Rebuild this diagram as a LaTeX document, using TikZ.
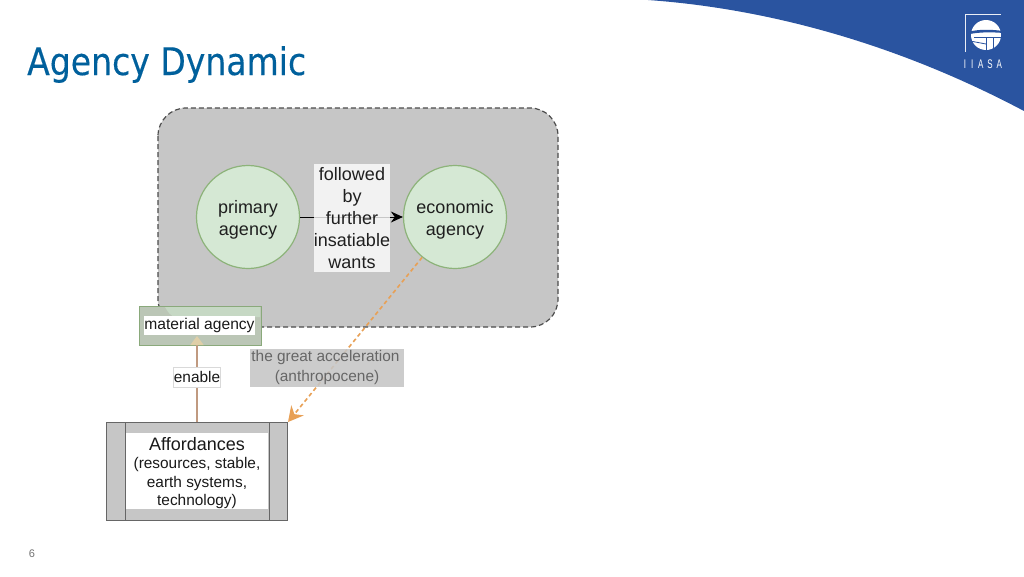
\documentclass[tikz,border=0pt]{standalone}
\usepackage{fontspec}
\setmainfont{Liberation Sans}
\newfontfamily\titlefont[FakeStretch=0.87,FakeBold=0.25]{DejaVu Sans}
\usetikzlibrary{arrows.meta}
\definecolor{panelgray}{HTML}{C6C6C6}
\definecolor{greenfill}{HTML}{D5E8D4}
\definecolor{greenline}{HTML}{8DB37A}
\definecolor{iiasablue}{HTML}{2A54A0}
\definecolor{titleblue}{HTML}{00609C}
\definecolor{orangeline}{HTML}{E8A055}
\definecolor{brownline}{HTML}{C09A80}
\definecolor{matbox}{HTML}{BBC6B6}
\definecolor{matlight}{HTML}{C6D8C4}
\definecolor{mattip}{HTML}{DFCFA8}
\tikzset{
  agent/.style={circle,draw=greenline,fill=greenfill,line width=1.2pt,minimum size=103pt,inner sep=0pt},
  agenttext/.style={align=center,font=\fontsize{18}{22}\selectfont,text=black!88,inner sep=0pt},
}
\begin{document}
\begin{tikzpicture}[x=1pt,y=-1pt]
\useasboundingbox (0,0) rectangle (1024,576);
\fill[white] (0,0) rectangle (1024,576);
% swoosh
\fill[iiasablue] (648,0) .. controls (760,8) and (890,40) .. (1024,111) -- (1024,0) -- cycle;
% logo
\draw[white!90!iiasablue,line width=0.8pt] (965,52) -- (965,14.5) -- (1001,14.5);
\fill[white] (986,35) circle (15);
\fill[iiasablue] (970,31.5) .. controls (980,29) and (992,29.5) .. (1003,31) -- (1003,33) .. controls (992,32) and (980,32) .. (970,34) -- cycle;
\draw[iiasablue,line width=1pt] (986,37) -- (986,51) (974,37)--(1003,37) (993,37)--(993,51);
\draw[iiasablue,line width=0.8pt] (970,41) -- (986,44);
\node[font=\fontsize{10}{10}\selectfont,text=white,inner sep=0pt] (iiasa) at (983,64) {\scalebox{0.8}[1.25]{I\hspace{6pt}I\hspace{6pt}A\hspace{5pt}S\hspace{5pt}A}};
% title
\node[anchor=base west,inner sep=0pt,text=titleblue,font=\titlefont\fontsize{38}{40}\selectfont] (title) at (27,75) {Agency Dynamic};
\node[anchor=center,inner sep=0pt,text=black!55,font=\fontsize{11}{12}\selectfont] (pagenum) at (32,554) {6};
% panel
\draw[fill=panelgray,draw=black!70,dash pattern=on 5pt off 3pt,line width=1.2pt,rounded corners=28pt] (158,108) rectangle (558,327);
\node[agent,label={[agenttext,yshift=-2.5pt]center:primary\\agency}] (primary) at (248,217) {};
\node[agent,label={[agenttext,yshift=-2.5pt]center:economic\\agency}] (economic) at (455,217) {};
\draw[-{Stealth[length=12pt,width=11pt]},line width=1pt,black] (primary) -- (economic);
\node[fill=white,fill opacity=0.78,text opacity=1,inner sep=0pt,minimum width=76pt,minimum height=108pt,align=center,font=\fontsize{18}{21.8}\selectfont,text=black!88] (followed) at (352,218) {followed\\by\\further\\insatiable\\wants};
\coordinate (acceltip) at (288,422);
% material
\node[draw=greenline!80!gray,fill=matbox,line width=1pt,minimum width=122pt,minimum height=39pt,inner sep=0pt] (materialbox) at (200,325.5) {};
\fill[matlight] (165,307) .. controls (168,312) and (170,316) .. (176,317) -- (260,317) -- (260,307) -- cycle;
\node[fill=white,inner sep=0pt,minimum width=110pt,minimum height=19pt,font=\fontsize{15.6}{18}\selectfont,text=black!90] (material) at (199.5,325) {material agency};
% affordances
\node[draw=black!60,fill=panelgray,line width=1pt,minimum width=181pt,minimum height=98pt,inner sep=0pt] (afford) at (197,471) {};
\draw[black!60,line width=1pt] (125,422) -- (125,520) (269,422) -- (269,520);
\node[fill=white,inner sep=0pt,minimum width=142pt,minimum height=76pt] (affordbox) at (197,471) {};
\node[inner sep=0pt,align=center,font=\fontsize{15.4}{18.5}\selectfont,text=black!90] (affordtext) at (197,473) {{\fontsize{18}{22}\selectfont Affordances}\\(resources, stable,\\earth systems,\\technology)};
% enable connector
\coordinate (enabletip) at (197,336);
\draw[brownline,line width=1.5pt,-{Triangle[length=9pt,width=13pt,color=mattip,fill=mattip]}] (afford.north) -- (enabletip);
\node[draw=black!15,fill=white,inner sep=0pt,minimum width=47pt,minimum height=20pt,font=\fontsize{15.4}{18}\selectfont,text=black!90] (enable) at (197,377) {enable};
% acceleration
\draw[orangeline,line width=1.6pt,dash pattern=on 4pt off 3pt,-{Stealth[length=15pt,width=16pt,color=orangeline,fill=orangeline]}] (economic) -- (acceltip);
\node[fill=panelgray,inner sep=0pt,minimum width=154pt,minimum height=38pt,align=center,font=\fontsize{15.4}{20}\selectfont,text=black!60,fill opacity=0.88,text opacity=1] (accel) at (327,368) {the great acceleration\hspace*{3pt}\\(anthropocene)};
\end{tikzpicture}
\end{document}
